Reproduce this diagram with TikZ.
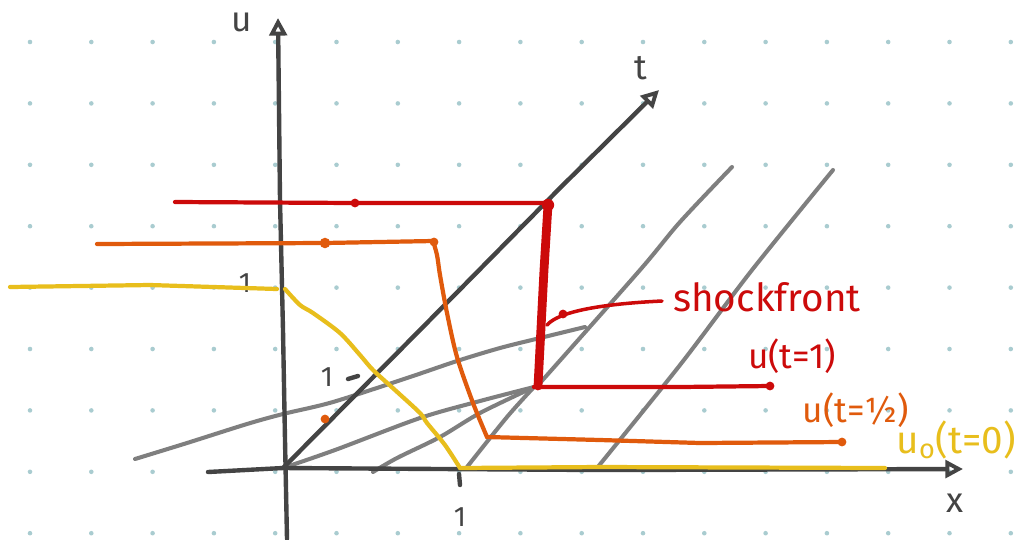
\documentclass[tikz,border=0pt]{standalone}
\usepackage{fontspec}
\setmainfont{Fira Sans}
\usetikzlibrary{arrows.meta}
\definecolor{axisgray}{HTML}{444444}
\definecolor{chargray}{HTML}{7F7F7F}
\definecolor{uyellow}{HTML}{E8BE1C}
\definecolor{uorange}{HTML}{E05A0C}
\definecolor{ured}{HTML}{CC0A0A}
\definecolor{griddot}{HTML}{A9CCD0}
\begin{document}
\begin{tikzpicture}[x=0.02cm,y=-0.02cm, line cap=round, line join=round,
  axisline/.style={draw=axisgray, line width=2.5pt},
  axisarrow/.style={axisline, -{Triangle[open,length=10pt,width=10pt,line width=2.2pt]}},
  charline/.style={draw=chargray, line width=2.3pt},
  yelline/.style={draw=uyellow, line width=2.4pt},
  oraline/.style={draw=uorange, line width=2.4pt},
  redline/.style={draw=ured, line width=2.4pt},
  shockline/.style={draw=ured, line width=5pt},
  pointer/.style={draw=ured, line width=2pt},
  blob/.style={circle, inner sep=0pt, minimum size=6pt},
  lbl/.style={inner sep=0pt, font=\fontsize{20}{24}\selectfont},
  ticklbl/.style={inner sep=0pt, text=axisgray, font=\fontsize{16}{18}\selectfont}]
\useasboundingbox (0,0) rectangle (1018,539);
\fill[white] (0,0) rectangle (1018,539);
% dot grid
\foreach \i in {0,...,16}{\foreach \j in {0,...,8}{\fill[griddot] (30+61.3*\i, 42+61.4*\j) circle (1.3pt);}}

% key points
\coordinate (O) at (283,468);
\coordinate (uBot) at (287,539);
\coordinate (uTip) at (278,18);
\coordinate (xL) at (208,472);
\coordinate (xTip) at (963,469);
\coordinate (tTip) at (659,90);
\coordinate (S) at (534,387);
\coordinate (One) at (460,468);

% characteristics (gray)
\draw[charline] plot[smooth] coordinates {(135,459) (187,443) (247,424) (283,414) (333,402) (407,378) (457,361) (500,348) (540,338) (585,327)};
\draw[charline] plot[smooth] coordinates {(O) (335,450) (420,418) (480,401) (S)};
\draw[charline] plot[smooth] coordinates {(373,472) (397,458) (440,437) (480,413) (S)};
\draw[charline] plot[smooth] coordinates {(467,467) (507,417) (S)};
\draw[charline] plot[smooth] coordinates {(540,383) (640,270) (680,222) (732,167)};
\draw[charline] plot[smooth] coordinates {(597,468) (680,365) (752,270) (833,170)};

% axes
\draw[axisarrow] (uBot) -- (285,440) -- (283,330) -- (280,200) -- (uTip);
\draw[axisarrow] (xL) -- (O) -- (600,470) -- (xTip);
\draw[axisarrow] (O) -- (420,330) -- (560,188) -- (tTip);
\node[lbl, text=axisgray] (ulab) at (242,22) {u};
\node[lbl, text=axisgray] (tlab) at (641,68) {t};
\node[lbl, text=axisgray] (xlab) at (955,503) {x};

% ticks
\draw[axisline] (459,474) -- (460,485);
\draw[axisline] (348,379) -- (358,376);
\node[ticklbl] (one-x) at (460,517) {1};
\node[ticklbl] (one-t) at (327,377) {1};
\node[ticklbl] (one-u) at (245,283) {1};

% u0 (t=0), yellow
\draw[yelline] (10,287) -- (150,285) -- (277,289);
\draw[yelline] plot[smooth] coordinates {(285,289) (300,305) (313,313) (340,333) (360,355) (373,370) (395,390) (420,413) (427,423) (445,445) (One)};
\draw[yelline] (One) -- (600,467) -- (885,468);

% u(t=1/2), orange
\draw[oraline] (97,244) -- (325,243) -- (433,241);
\draw[oraline] plot[smooth] coordinates {(433,241) (437,255) (440,275) (447,313) (457,357) (473,403) (487,437)};
\draw[oraline] (487,437) -- (600,440) -- (700,443) -- (842,442);
\node[blob, fill=uorange] (od1) at (325,243) {};
\node[blob, fill=uorange, minimum size=5pt] (od2) at (325,419) {};
\node[blob, fill=uorange, minimum size=5pt] (od3) at (842,442) {};
\node[blob, fill=uorange, minimum size=5pt] (od4) at (434,242) {};

% u(t=1), red
\draw[redline] (175,202) -- (355,203) -- (548,203);
\draw[shockline] (548,205) -- (544,270) -- (538,386);
\draw[redline] (S) -- (680,387) -- (770,386);
\node[blob, fill=ured, minimum size=5pt] (rd1) at (355,203) {};
\node[blob, fill=ured, minimum size=5pt] (rd2) at (770,386) {};
\node[blob, fill=ured, minimum size=7pt] (rd3) at (548,205) {};

% shockfront pointer
\coordinate (pStart) at (547,325);
\node[lbl, text=ured, font=\fontsize{22}{26}\selectfont] (shock) at (767,297) {shockfront};
\draw[pointer] (pStart) .. controls (555,316) and (580,305) .. (662,301);
\node[blob, fill=ured, minimum size=5pt] (pd) at (563,314) {};

% curve labels
\node[lbl, text=ured] (l1) at (792,356) {u(t=1)};
\node[lbl, text=uorange] (l2) at (856,410) {u(t=½)};
\node[lbl, text=uyellow, anchor=east, font=\fontsize{22}{26}\selectfont] (l0) at (1016,440) {u\textsubscript{o}(t=0)};
\end{tikzpicture}
\end{document}
